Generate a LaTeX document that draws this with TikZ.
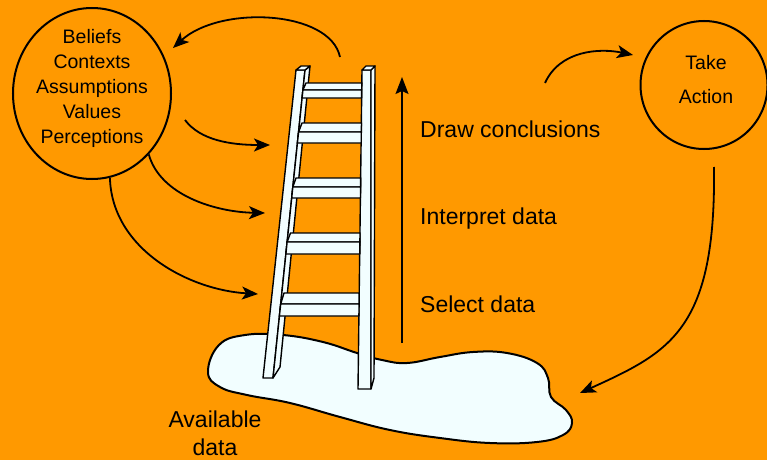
\documentclass[tikz,border=0pt]{standalone}
\usepackage{fontspec}
\setmainfont{Liberation Sans}
\usetikzlibrary{arrows.meta,shapes.geometric}
\definecolor{bgorange}{HTML}{FF9900}
\definecolor{pale}{HTML}{F2FEFF}

\begin{document}
\begin{tikzpicture}[x=1pt,y=-1pt,
  wood/.style={fill=pale, draw=black, line width=1.4pt, line join=round},
  flow/.style={draw=black, line width=1.8pt,
    -{Stealth[length=16pt,width=13pt,inset=4pt]}},
  bubble/.style={draw=black, line width=2pt, ellipse, inner sep=0pt},
  smalltext/.style={font=\fontsize{19.5}{25}\selectfont, align=center, inner sep=0pt},
  bigtext/.style={font=\fontsize{23}{29}\selectfont, inner sep=0pt}]

% background
\fill[bgorange] (0,0) rectangle (767,460);
\useasboundingbox (0,0) rectangle (767,460);

% pool of available data
\draw[wood, line width=2pt] plot[smooth cycle, tension=0.7] coordinates {
  (208,372) (219,345) (245,335) (283,335) (323,342) (357,353) (382,360)
  (407,363) (440,357) (473,352) (507,353) (537,363) (548,378) (551,397)
  (566,410) (572,423) (563,435) (537,442) (490,443) (440,438) (390,430)
  (340,417) (290,403) (247,395) (220,387)};

% left rail
\draw[wood] (296,70) -- (305,70) -- (273,378) -- (263,378) -- cycle;
\draw[wood] (305,70) -- (310,66) -- (280,367) -- (273,378) -- cycle;
\draw[wood] (296,70) -- (301,66) -- (310,66) -- (305,70) -- cycle;
% right rail
\draw[wood] (362,70) -- (371,70) -- (371,389) -- (358,389) -- cycle;
\draw[wood] (371,70) -- (375,66) -- (374,378) -- (371,389) -- cycle;
\draw[wood] (362,70) -- (366,66) -- (375,66) -- (371,70) -- cycle;

% rungs: top face, then front face
\foreach \tl/\t/\tr/\ml/\m/\mr/\bl/\b/\br in {
  306/83/361.8/302.9/90/361.7/302.1/98/361.6,
  302/123/361.5/298.6/132/361.3/297.4/143/361.2,
  296/178/360.7/292.8/187/360.6/291.7/198/360.5,
  290.5/233/360/287.1/242/359.9/285.9/254/359.8,
  284/293/359.2/280.7/304/359.1/279.4/316/358.9}{
  \draw[wood] (\tl,\t) -- (\tr,\t) -- (\mr,\m) -- (\ml,\m) -- cycle;
  \draw[wood] (\ml,\m) -- (\mr,\m) -- (\br,\b) -- (\bl,\b) -- cycle;
}

% circles
\node[bubble, minimum width=158pt, minimum height=171pt] (beliefs) at (92,93.5) {};
\node[smalltext] (beliefslabel) at (92,88.5)
  {Beliefs\\Contexts\\Assumptions\\Values\\Perceptions};
\node[bubble, minimum width=127pt, minimum height=128pt] (action) at (704,85) {};
\node[smalltext, font=\fontsize{19.5}{34}\selectfont] (actionlabel) at (706,80)
  {Take\\Action};

% rungs of inference
\coordinate (climbstart) at (402,343);
\coordinate (climbend) at (402,77);
\draw[line width=1.5pt, -{Stealth[length=17pt,width=13pt,inset=3pt]}]
  (climbstart) -- (climbend);
\node[bigtext, anchor=base west] (draw) at (420,137) {Draw conclusions};
\node[bigtext, anchor=base west] (interpret) at (420,224) {Interpret data};
\node[bigtext, anchor=base west] (select) at (420,312) {Select data};

\node[bigtext, align=center, anchor=north, font=\fontsize{23}{28}\selectfont]
  (available) at (215,411) {Available\\data};

% feedback and influence arrows
\coordinate (loopstart) at (340,57);
\coordinate (loopend) at (173,48);
\draw[flow] (loopstart) .. controls (330,10) and (220,5) .. (loopend);

\coordinate (inflA) at (185,120);
\coordinate (rungA) at (270,145);
\draw[flow] (inflA) .. controls (200,140) and (230,145) .. (rungA);

\coordinate (rungB) at (265,213);
\draw[flow] (beliefs.-47) .. controls (160,195) and (215,212) .. (rungB);

\coordinate (rungC) at (258,294);
\draw[flow] (beliefs.-78) .. controls (112,250) and (190,290) .. (rungC);

\coordinate (actstart) at (545,83);
\coordinate (actend) at (633,55);
\draw[flow] (actstart) .. controls (560,50) and (600,48) .. (actend);

\coordinate (returnstart) at (714,167);
\coordinate (returnend) at (580,393);
\draw[flow] (returnstart) .. controls (716,330) and (670,352) .. (returnend);

\end{tikzpicture}
\end{document}
